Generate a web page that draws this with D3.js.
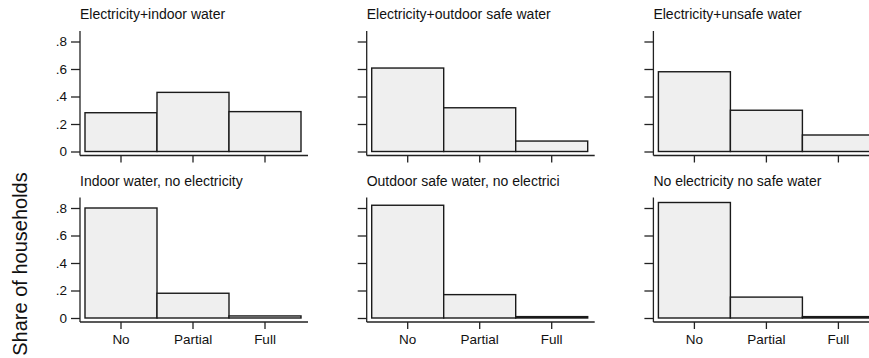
<!DOCTYPE html>
<html>
<head>
<meta charset="utf-8">
<script src="https://cdn.jsdelivr.net/npm/d3@7"></script>
<style>
  body { margin: 0; background: #fff; }
  text { font-family: "Liberation Sans", Arial, sans-serif; fill: #111; }
</style>
</head>
<body>
<div id="field"></div>
<script>
'use strict';

const categories = ['No', 'Partial', 'Full'];
const panelTitles = [
  'Electricity+indoor water', 'Electricity+outdoor safe water', 'Electricity+unsafe water',
  'Indoor water, no electricity', 'Outdoor safe water, no electrici', 'No electricity no safe water'
];
const shares = [
  [0.282, 0.430, 0.290],
  [0.607, 0.318, 0.076],
  [0.580, 0.300, 0.120],
  [0.800, 0.180, 0.015],
  [0.820, 0.170, 0.010],
  [0.840, 0.152, 0.010]
];
const yTicks = [0, 0.2, 0.4, 0.6, 0.8];
const yTitle = 'Share of households';

function PanelChart(setting) {
  let w = setting.w,
      h = setting.h,
      svg = d3.select('#field').append('svg').attr('width', w).attr('height', h);

  svg.append('text').text(yTitle)
    .attr('transform', 'translate(27,264) rotate(-90)')
    .attr('text-anchor', 'middle').style('font-size', '20px');

  panelTitles.forEach(function(title, i) {
    let col = i % 3, row = Math.floor(i / 3),
        x0 = 80 + col * 286.7,
        zeroY = 151.5 + row * 166.5,
        Xscale = d3.scaleBand().domain(categories).range([x0 + 5, x0 + 221]),
        Yscale = d3.scaleLinear().domain([0, 0.8]).range([zeroY, zeroY - 110]),
        g = svg.append('g');

    g.append('text').text(title).attr('x', x0).attr('y', zeroY - 132.5).style('font-size', '14px');

    g.selectAll('rect').data(shares[i]).enter().append('rect')
      .attr('x', function(d, j){ return Xscale(categories[j]); })
      .attr('y', function(d){ return Yscale(d); })
      .attr('width', Xscale.bandwidth())
      .attr('height', function(d){ return Yscale(0) - Yscale(d); })
      .attr('fill', '#efefef').attr('stroke', '#1a1a1a').attr('stroke-width', 1.4);

    let yAxis = g.append('g').attr('transform', 'translate(' + x0 + ',0)')
      .call(d3.axisLeft(Yscale).tickValues(yTicks).tickSize(9).tickPadding(4)
        .tickFormat(function(d){ return d === 0 ? '0' : d3.format('.1f')(d).replace(/^0/, ''); }));
    yAxis.select('.domain').attr('d', 'M0,' + (zeroY - 120.5) + 'V' + (zeroY + 4));
    if (col > 0) yAxis.selectAll('.tick text').remove();

    let xAxis = g.append('g').attr('transform', 'translate(0,' + (zeroY + 4) + ')')
      .call(d3.axisBottom(Xscale).tickSize(7).tickPadding(5));
    xAxis.select('.domain').attr('d', 'M' + x0 + ',0H' + (x0 + 228));
    if (row === 0) xAxis.selectAll('.tick text').remove();

    g.selectAll('.domain, .tick line').attr('stroke', '#222').attr('stroke-width', 1.3);
    g.selectAll('.tick text').style('font-size', '13.5px').attr('fill', '#111');
  });
}

let panelChart = new PanelChart({ w: 869, h: 358 });
</script>
</body>
</html>
